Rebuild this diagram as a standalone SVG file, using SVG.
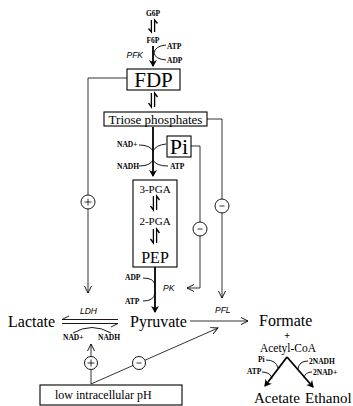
<svg xmlns="http://www.w3.org/2000/svg" xmlns:xlink="http://www.w3.org/1999/xlink" width="353" height="406" viewBox="0 0 353 406">
<style>
.t{font-family:"Liberation Serif","Times New Roman",serif;fill:#000}
.s{font-family:"Liberation Serif","Times New Roman",serif;font-size:7.5px;font-weight:bold;fill:#000}
.e{font-family:"Liberation Sans",Arial,sans-serif;font-style:italic;font-size:8.5px;fill:#000}
.box{fill:none;stroke:#000;stroke-width:1.1}
.ln{fill:none;stroke:#000;stroke-width:1.8}
.th{fill:none;stroke:#000;stroke-width:0.9}
.reg{fill:none;stroke:#000;stroke-width:0.8}
.circ{fill:#fff;stroke:#000;stroke-width:0.9}
</style>
<defs>
<marker id="fa" markerWidth="8" markerHeight="8" refX="6" refY="4" orient="auto" markerUnits="userSpaceOnUse">
<path d="M0,0 L7,4 L0,8 L2,4 Z" fill="#000"/>
</marker>
<marker id="oa" markerWidth="10" markerHeight="10" refX="8" refY="5" orient="auto" markerUnits="userSpaceOnUse">
<path d="M1,1.5 L8,5 L1,8.5" fill="none" stroke="#000" stroke-width="0.9"/>
</marker>
<g id="rev">
<path d="M-1.6,0 V14 L-4.5,10" fill="none" stroke="#000" stroke-width="1.3"/>
<path d="M1.6,14 V0 L4.5,4" fill="none" stroke="#000" stroke-width="1.3"/>
</g>
<g id="rev12">
<path d="M-1.6,0 V12 L-4.5,8.5" fill="none" stroke="#000" stroke-width="1.3"/>
<path d="M1.6,12 V0 L4.5,3.5" fill="none" stroke="#000" stroke-width="1.3"/>
</g>
</defs>

<g id="connectors">
<use xlink:href="#rev12" x="153" y="20"/>
<path class="ln" d="M153,46 V66" marker-end="url(#fa)"/>
<path class="th" d="M166,45 Q155,46 154,53 Q155,59 166,60"/>
<use xlink:href="#rev" x="153" y="93"/>
<path class="ln" d="M153,127 V176" marker-end="url(#fa)"/>
<path class="th" d="M139,145 Q150,145 153,151 Q156,145 166,144"/>
<path class="th" d="M139,166 Q150,166 153,160 Q156,166 168,166"/>
<use xlink:href="#rev" x="155" y="196"/>
<use xlink:href="#rev" x="155" y="229"/>
<path class="ln" d="M155,267 V312" marker-end="url(#fa)"/>
<path class="th" d="M143,278 Q154,278 155,285"/>
<path class="th" d="M155,293 Q154,301 143,301"/>
<path class="th" d="M118,319.5 H62 L69,316"/>
<path class="th" d="M62,323.5 H118 L111,327"/>
<path class="th" d="M73,333 Q92,322 111,333"/>
<path class="reg" d="M190,321 H248" marker-end="url(#oa)"/>
<path class="ln" d="M287,357 L265,386" marker-end="url(#fa)"/>
<path class="ln" d="M287,357 L313,387" marker-end="url(#fa)"/>
<path class="th" d="M266,360 Q276,360 278,368"/>
<path class="th" d="M262,372 Q271,372 272,379"/>
<path class="th" d="M308,361 Q299,361 298,369"/>
<path class="th" d="M304,378 Q305,372 312,372"/>
<path class="reg" d="M127,78 H88 V293" marker-end="url(#oa)"/>
<path class="reg" d="M207,119 H222 V298" marker-end="url(#oa)"/>
<path class="reg" d="M191,146 H200 V288 H187" marker-end="url(#oa)"/>
<path class="reg" d="M91,384 V344" marker-end="url(#oa)"/>
<path class="reg" d="M91,384 L218,328" marker-end="url(#oa)"/>
</g>

<g id="reg-fdp-plus"><circle class="circ" cx="88" cy="202" r="7"/><path class="reg" d="M84.5,202 H91.5 M88,198.5 V205.5" stroke-width="1.1"/></g>
<g id="reg-triose-minus"><circle class="circ" cx="222" cy="206" r="7"/><path class="reg" d="M219.5,206 H224.5" stroke-width="1.1"/></g>
<g id="reg-pi-minus"><circle class="circ" cx="200" cy="229" r="7"/><path class="reg" d="M197.5,229 H202.5" stroke-width="1.1"/></g>
<g id="reg-ph-plus"><circle class="circ" cx="91" cy="363" r="6.5"/><path class="reg" d="M87.5,363 H94.5 M91,359.5 V366.5" stroke-width="1.1"/></g>
<g id="reg-ph-minus"><circle class="circ" cx="139" cy="363" r="6.5"/><path class="reg" d="M136.5,363 H141.5" stroke-width="1.1"/></g>

<g id="g6p"><text class="s" x="153" y="16" text-anchor="middle" font-size="8">G6P</text></g>
<g id="f6p"><text class="s" x="153" y="42.5" text-anchor="middle" font-size="8">F6P</text></g>
<g id="pfk"><text class="e" x="143" y="58" text-anchor="end">PFK</text>
<text class="s" x="167" y="49">ATP</text><text class="s" x="167" y="63">ADP</text></g>
<g id="fdp"><rect class="box" x="127" y="69" width="53" height="21"/>
<text class="t" x="153.5" y="87" text-anchor="middle" font-size="21">FDP</text></g>
<g id="triose"><rect class="box" x="104" y="112" width="103" height="14"/>
<text class="t" x="155.5" y="123.5" text-anchor="middle" font-size="13">Triose phosphates</text></g>
<g id="gapdh"><text class="s" x="117" y="147">NAD+</text><text class="s" x="117" y="168.5">NADH</text><text class="s" x="170" y="168.5">ATP</text></g>
<g id="pi"><rect class="box" x="167" y="136" width="24" height="21"/>
<text class="t" x="179" y="154" text-anchor="middle" font-size="22">Pi</text></g>
<g id="pga"><rect class="box" x="133" y="180" width="44" height="87"/>
<text class="t" x="155" y="192.5" text-anchor="middle" font-size="11">3-PGA</text>
<text class="t" x="155" y="224.5" text-anchor="middle" font-size="11">2-PGA</text>
<text class="t" x="155" y="263" text-anchor="middle" font-size="16">PEP</text></g>
<g id="pk"><text class="s" x="125" y="280">ADP</text><text class="s" x="125" y="304">ATP</text>
<text class="e" x="163" y="291">PK</text></g>
<g id="pyruvate"><text class="t" x="130" y="327" font-size="16">Pyruvate</text></g>
<g id="lactate"><text class="t" x="8" y="327" font-size="16">Lactate</text></g>
<g id="ldh"><text class="e" x="80" y="314">LDH</text><text class="s" x="63" y="340">NAD+</text><text class="s" x="98" y="340">NADH</text></g>
<g id="pfl"><text class="e" x="215" y="313">PFL</text></g>
<g id="formate"><text class="t" x="259" y="326" font-size="16">Formate</text>
<text class="t" x="287" y="339" text-anchor="middle" font-size="10" font-weight="bold">+</text>
<text class="t" x="288" y="352" text-anchor="middle" font-size="11.5">Acetyl-CoA</text></g>
<g id="branch-labels"><text class="s" x="258" y="362">Pi</text><text class="s" x="247" y="374">ATP</text>
<text class="s" x="309" y="364">2NADH</text><text class="s" x="313" y="375">2NAD+</text></g>
<g id="acetate"><text class="t" x="254" y="403" font-size="15">Acetate</text></g>
<g id="ethanol"><text class="t" x="305" y="403" font-size="15">Ethanol</text></g>
<g id="ph"><rect class="box" x="40" y="385" width="142" height="20"/>
<text class="t" x="55" y="399" font-size="12">low intracellular  pH</text></g>
</svg>
